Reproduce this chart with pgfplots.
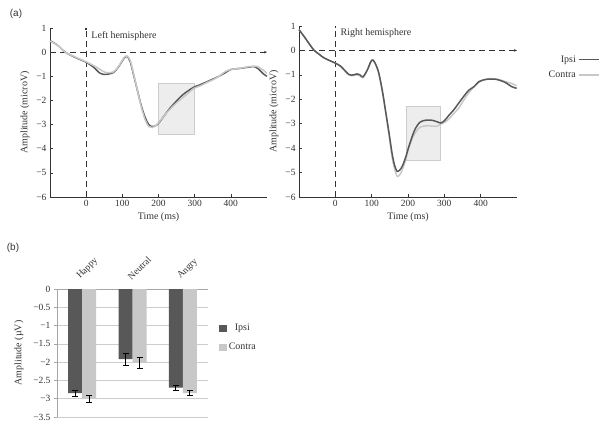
\documentclass[border=0pt]{standalone}
\usepackage{pgfplots}
\pgfplotsset{compat=1.18}
\usepackage{fontspec}
\setmainfont{Liberation Serif}
\newfontfamily\labfont{Liberation Sans}
\usetikzlibrary{arrows.meta}
\definecolor{ipsi}{HTML}{585858}
\definecolor{contra}{HTML}{C8C8C8}
\definecolor{boxfill}{HTML}{EDEDED}
\definecolor{boxdraw}{HTML}{CCCCCC}
\definecolor{axcol}{HTML}{333333}

\pgfplotstableread{
t v
-100 0.47
-80 0.30
-58 0.00
-30 -0.22
0 -0.42
20 -0.62
39 -0.88
55 -0.92
75 -0.85
90 -0.60
105 -0.25
113 -0.18
122 -0.40
132 -1.00
142 -1.60
152 -2.20
163 -2.70
173 -3.00
182 -3.08
192 -3.05
201 -2.93
215 -2.65
233 -2.30
250 -2.02
266 -1.78
282 -1.60
298 -1.45
315 -1.35
335 -1.22
350 -1.12
367 -1.00
385 -0.85
400 -0.72
428 -0.67
450 -0.62
465 -0.60
475 -0.68
490 -0.90
500 -1.00
}\leftipsi

\pgfplotstableread{
t v
-100 0.45
-80 0.30
-58 0.00
-30 -0.20
0 -0.40
20 -0.55
39 -0.72
55 -0.85
75 -0.82
90 -0.58
105 -0.22
113 -0.16
122 -0.35
132 -0.95
142 -1.60
152 -2.25
163 -2.80
173 -3.08
182 -3.12
192 -3.05
201 -2.90
215 -2.65
233 -2.35
250 -2.10
266 -1.90
282 -1.70
298 -1.50
315 -1.40
335 -1.25
350 -1.15
367 -1.00
385 -0.80
400 -0.72
428 -0.66
450 -0.60
465 -0.58
475 -0.60
490 -0.75
500 -0.88
}\leftcontra

\pgfplotstableread{
t v
-100 0.85
-85 0.55
-60 0.03
-45 -0.15
-32 -0.30
-15 -0.42
0 -0.52
15 -0.65
37 -0.98
50 -1.00
60 -0.96
68 -1.00
76 -1.08
88 -0.80
98 -0.45
104 -0.40
112 -0.60
120 -0.95
130 -1.70
138 -2.45
148 -3.40
156 -4.20
163 -4.70
170 -4.95
177 -4.90
184 -4.75
193 -4.40
202 -3.95
212 -3.50
221 -3.18
232 -2.95
244 -2.87
256 -2.85
267 -2.86
280 -2.92
290 -2.97
300 -2.88
313 -2.65
325 -2.45
340 -2.15
355 -1.85
368 -1.62
382 -1.48
395 -1.28
410 -1.20
425 -1.17
437 -1.17
452 -1.22
469 -1.32
485 -1.48
499 -1.55
}\rightipsi

\pgfplotstableread{
t v
-100 0.85
-85 0.55
-60 0.03
-45 -0.15
-32 -0.30
-15 -0.42
0 -0.52
15 -0.66
37 -1.00
50 -1.03
60 -1.00
68 -1.04
76 -1.12
88 -0.82
98 -0.45
104 -0.40
112 -0.60
120 -0.98
130 -1.75
138 -2.50
148 -3.50
156 -4.35
163 -4.85
170 -5.15
177 -5.10
184 -4.90
193 -4.50
202 -4.00
212 -3.60
221 -3.35
232 -3.15
244 -3.10
256 -3.08
267 -3.10
280 -3.10
290 -3.02
300 -2.95
313 -2.80
325 -2.60
340 -2.35
355 -2.00
368 -1.72
382 -1.48
395 -1.30
410 -1.20
425 -1.15
437 -1.16
452 -1.20
469 -1.28
485 -1.35
499 -1.45
}\rightcontra

\pgfplotstableread{
x ipsi ipsierr contra contraerr
0 -2.85 0.09 -3.00 0.10
1 -1.92 0.17 -2.02 0.14
2 -2.70 0.07 -2.85 0.07
}\bardata

\pgfplotsset{
  erpaxis/.style={
    scale only axis, width=217bp, height=169bp,
    xmin=-100, xmax=500, ymin=-6, ymax=1,
    axis lines*=left,
    axis line style={color=axcol, line width=0.6pt},
    xtick={0,100,200,300,400},
    ytick={-6,-5,-4,-3,-2,-1,0,1},
    yticklabels={−6,−5,−4,−3,−2,−1,0,1},
    tick style={color=axcol, line width=0.6pt},
    major tick length=3bp,
    tick align=inside,
    ticklabel style={font=\fontsize{9.5}{11}\selectfont, text=axcol},
    label style={font=\fontsize{10}{12}\selectfont, text=axcol},
    xlabel style={yshift=1bp},
    /pgf/number format/assume math mode=true,
    xlabel={Time (ms)},
    ylabel={Amplitude (microV)},
    clip=false,
  },
  refline/.style={color=axcol, line width=0.7pt, dash pattern=on 6bp off 4bp},
}

\begin{document}
\begin{tikzpicture}
\path (0,0) rectangle (605bp,428bp);
\node[font=\labfont\fontsize{10}{11}\selectfont, text=axcol] at (16bp,414bp) {(a)};
\node[font=\labfont\fontsize{10}{11}\selectfont, text=axcol] at (13bp,180bp) {(b)};

% Left hemisphere
\begin{axis}[erpaxis, at={(50bp,231bp)}, anchor=south west]
\addplot[fill=boxfill, draw=boxdraw, line width=0.6pt, forget plot] coordinates {(200,-1.3) (300,-1.3) (300,-3.4) (200,-3.4)} -- cycle;
\addplot[refline, -{Stealth[length=3bp,width=2.5bp]}, forget plot] coordinates {(-100,0) (500,0)};
\addplot[refline, -{Rectangle[length=1.5bp,width=1.5bp]}, forget plot] coordinates {(0,-6) (0,1)};
\addplot[ipsi, line width=1.5pt, smooth, forget plot] table[x=t,y=v] {\leftipsi};
\addplot[contra, line width=1.5pt, smooth, forget plot] table[x=t,y=v] {\leftcontra};
\node[anchor=west, font=\fontsize{10}{12}\selectfont, text=axcol] at (axis cs:5,0.65) {Left hemisphere};
\end{axis}

% Right hemisphere
\begin{axis}[erpaxis, at={(299bp,231bp)}, anchor=south west, width=218bp, height=171bp,
  legend style={at={(rel axis cs:1.38,0.84)}, anchor=north east, draw=none, fill=none,
    font=\fontsize{10}{12}\selectfont, text=axcol, row sep=3bp, inner sep=0pt},
  legend plot pos=right, legend cell align=right,
  legend image code/.code={\draw[#1] (0bp,0bp) -- (20bp,0bp);}]
\addplot[fill=boxfill, draw=boxdraw, line width=0.6pt, forget plot] coordinates {(195,-2.27) (290,-2.27) (290,-4.5) (195,-4.5)} -- cycle;
\addplot[refline, -{Stealth[length=3bp,width=2.5bp]}, forget plot] coordinates {(-100,0) (500,0)};
\addplot[refline, -{Rectangle[length=1.5bp,width=1.5bp]}, forget plot] coordinates {(0,-6) (0,1)};
\addplot[contra, line width=1.5pt, smooth, forget plot] table[x=t,y=v] {\rightcontra};
\addplot[ipsi, line width=1.5pt, smooth, forget plot] table[x=t,y=v] {\rightipsi};
\addlegendimage{ipsi, line width=1.8pt}
\addlegendentry{Ipsi}
\addlegendimage{contra, line width=1.8pt}
\addlegendentry{Contra}
\node[anchor=west, font=\fontsize{10}{12}\selectfont, text=axcol] at (axis cs:5,0.72) {Right hemisphere};
\end{axis}

% Panel (b)
\begin{axis}[at={(57bp,11bp)}, anchor=south west, scale only axis, width=151bp, height=128bp,
  xmin=-0.5, xmax=2.5, ymin=-3.5, ymax=0,
  axis x line*=top, axis y line*=left,
  axis line style={color=gray!70, line width=0.6pt},
  ybar=0pt, bar width=14bp,
  xtick={0,1,2}, xticklabels={Happy,Neutral,Angry},
  xticklabel pos=upper,
  xticklabel style={rotate=45, anchor=south west, font=\fontsize{9.5}{11}\selectfont, text=axcol, xshift=0bp, yshift=1bp},
  x tick style={draw=none},
  extra x ticks={-0.5,0.5,1.5,2.5}, extra x tick labels={},
  extra x tick style={tick style={draw=gray!70, line width=0.6pt}, major tick length=3bp, tick align=inside, grid=none},
  ytick={-3.5,-3,-2.5,-2,-1.5,-1,-0.5,0},
  yticklabels={−3.5,−3,−2.5,−2,−1.5,−1,−0.5,0},
  yticklabel style={font=\fontsize{9.5}{11}\selectfont, text=axcol},
  y tick style={color=gray!70, line width=0.6pt}, tick align=outside, major tick length=3bp,
  ymajorgrids, grid style={color=gray!40, line width=0.6pt},
  ylabel={Amplitude (µV)}, ylabel style={font=\fontsize{10}{12}\selectfont, text=axcol, xshift=0bp, yshift=3bp},
  legend style={at={(rel axis cs:1.07,0.62)}, anchor=west, draw=none, fill=none,
    font=\fontsize{10}{12}\selectfont, text=axcol, row sep=7bp, inner sep=0pt},
  legend image code/.code={\fill[#1] (0bp,-3.5bp) rectangle (8bp,3.5bp);},
  error bars/error bar style={black, line width=0.7pt},
  error bars/error mark options={black, line width=0.7pt, rotate=90, mark size=3bp},
]
\addplot[fill=ipsi, draw=none, error bars/.cd, y dir=both, y explicit] table[x=x, y=ipsi, y error=ipsierr] {\bardata};
\addlegendentry{Ipsi}
\addplot[fill=contra, draw=none, error bars/.cd, y dir=both, y explicit] table[x=x, y=contra, y error=contraerr] {\bardata};
\addlegendentry{Contra}
\end{axis}
\end{tikzpicture}
\end{document}
